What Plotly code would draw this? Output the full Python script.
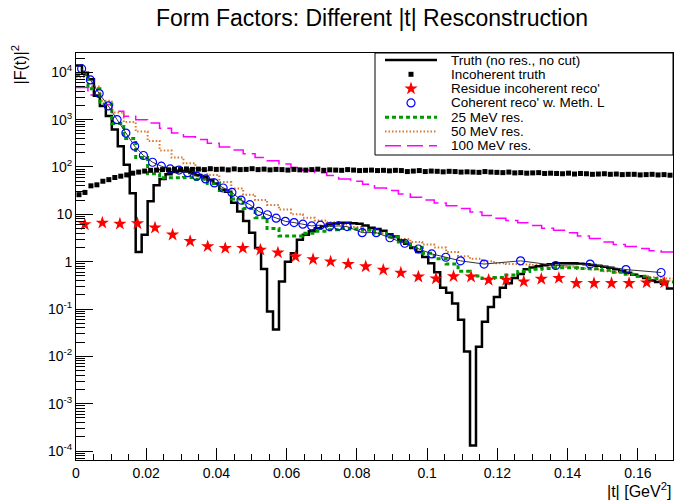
import numpy as np
import plotly.graph_objects as go

# ---------------- data ----------------
T_MAX = 0.17
TRUTH_BIN = 0.0017      # truth / incoherent-truth bin width
SMEAR_BIN = 0.0034      # smeared-resolution histograms bin width
RESIDUE_BIN = 0.005     # residue incoherent reco bin width

truth = [14000, 9800, 7100, 3200, 1950, 1200, 620, 275, 112, 28,
         1.6, 3.7, 19, 41, 56, 70, 78, 82, 80, 75,
         68, 62, 54, 45, 33, 30, 17.5, 11.5, 7.2, 4.1,
         1.95, 0.7, 0.088, 0.037, 0.38, 1.0, 1.5, 2.9, 3.7, 4.4,
         5.1, 5.6, 6.1, 6.4, 6.6, 6.6, 6.5, 6.3, 5.8, 5.2,
         4.9, 4.5, 3.8, 3.4, 2.8, 2.4, 1.95, 1.6, 1.25, 0.93,
         0.6, 0.28, 0.22, 0.13, 0.059, 0.0126, 0.00013, 0.016, 0.054, 0.11,
         0.18, 0.28, 0.35, 0.45, 0.55, 0.69, 0.75, 0.8, 0.84, 0.88,
         0.92, 0.93, 0.93, 0.92, 0.9, 0.88, 0.85, 0.82, 0.78, 0.74,
         0.69, 0.63, 0.58, 0.53, 0.49, 0.45, 0.4, 0.37, 0.34, 0.27]

incoherent_truth = [26, 29, 40, 42, 50, 54, 60, 64, 68, 74,
                    78, 82, 85, 86, 88, 87, 90, 88, 91, 89,
                    90, 88, 92, 89, 90, 87, 91, 88, 89, 92,
                    88, 90, 87, 89, 88, 86, 89, 87, 86, 88,
                    90, 85, 87, 86, 85, 88, 86, 84, 85, 86,
                    84, 85, 83, 85, 84, 80, 82, 84, 80, 82,
                    81, 79, 81, 80, 78, 79, 78, 77, 80, 78,
                    77, 76, 78, 75, 76, 74, 75, 76, 73, 74,
                    73, 72, 74, 71, 73, 72, 70, 71, 72, 70,
                    71, 69, 70, 70, 68, 69, 70, 68, 69, 67]

residue_reco = [6.1, 6.6, 6.3, 6.4, 5.2, 3.7, 2.7, 2.1, 1.93, 1.93,
                1.78, 1.55, 1.28, 1.12, 1.0, 0.89, 0.79, 0.67, 0.58, 0.48,
                0.44, 0.49, 0.48, 0.41, 0.41, 0.38, 0.43, 0.45, 0.35, 0.35,
                0.35, 0.35, 0.36, 0.36]

coherent_t = [0.0016, 0.0041, 0.0066, 0.0092, 0.0117, 0.0142, 0.0167, 0.0192,
              0.0218, 0.0243, 0.0268, 0.0293, 0.0318, 0.0344, 0.0369, 0.0394,
              0.0419, 0.0444, 0.0470, 0.0495, 0.0520, 0.0545, 0.0570, 0.0596,
              0.0621, 0.0646, 0.0671, 0.0696, 0.0722, 0.0747, 0.0772, 0.0815,
              0.0855, 0.0894, 0.0936, 0.0975, 0.1013, 0.1053, 0.1095, 0.1162,
              0.1266, 0.1366, 0.1464, 0.1566, 0.1666]
coherent_reco = [11900, 6900, 3550, 1950, 1000, 520, 275, 175,
                 126, 104, 91, 86, 76, 64, 56, 46,
                 36, 29, 20, 16, 11.5, 9.8, 8.3, 7.1,
                 6.7, 6.2, 5.7, 5.9, 5.5, 5.7, 5.5, 4.1,
                 4.1, 3.2, 2.45, 1.85, 1.46, 1.24, 1.04, 0.89,
                 1.04, 0.83, 0.89, 0.68, 0.59]

res25 = [8900, 4470, 2140, 830, 400, 158, 72, 59, 59, 60,
         55, 45, 32, 21, 13.2, 8.5, 5.0, 3.5, 3.5, 4.0,
         4.4, 4.7, 5.0, 4.9, 4.6, 4.0, 3.3, 2.6, 2.0, 1.5,
         1.15, 0.89, 0.63, 0.5, 0.44, 0.46, 0.52, 0.62, 0.69, 0.72,
         0.74, 0.74, 0.72, 0.71, 0.66, 0.60, 0.54, 0.49, 0.44, 0.37]

res50 = [7900, 5000, 2500, 1410, 890, 560, 355, 224, 158, 120,
         89, 68, 48, 35, 26, 20, 15.8, 12.6, 10, 8.5,
         7.4, 6.8, 6.2, 5.4, 4.7, 4.0, 3.5, 3.0, 2.6, 2.3,
         2.0, 1.6, 1.3, 1.15, 1.02, 0.93, 0.89, 0.87, 0.85, 0.83,
         0.81, 0.78, 0.72, 0.68, 0.63, 0.59, 0.54, 0.50, 0.47, 0.44]

res100 = [4790, 3310, 2090, 1510, 1175, 1000, 851, 661, 525, 437,
          380, 316, 263, 229, 191, 158, 135, 115, 98, 85,
          76, 66, 56, 50, 43, 36, 32, 27, 23, 20,
          17.4, 15.1, 13.2, 11.2, 9.5, 8.3, 7.4, 6.6, 5.8, 5.1,
          4.6, 4.1, 3.5, 3.1, 2.6, 2.3, 2.1, 1.9, 1.7, 1.6]

legend_labels = ["Truth (no res., no cut)", "Incoherent truth",
                 "Residue incoherent reco'", "Coherent reco' w. Meth. L",
                 "25 MeV res.", "50 MeV res.", "100 MeV res."]

x_tick_vals = [0, 0.02, 0.04, 0.06, 0.08, 0.1, 0.12, 0.14, 0.16]
x_tick_text = ["0", "0.02", "0.04", "0.06", "0.08", "0.1", "0.12", "0.14", "0.16"]
y_tick_vals = [1e-4, 1e-3, 1e-2, 1e-1, 1, 10, 1e2, 1e3, 1e4]
y_tick_text = ["10<sup>-4</sup>", "10<sup>-3</sup>", "10<sup>-2</sup>", "10<sup>-1</sup>",
               "1", "10", "10<sup>2</sup>", "10<sup>3</sup>", "10<sup>4</sup>"]

# ---------------- styles ----------------
FONT = "Liberation Sans"
C_GREEN = "#009a00"
C_ORANGE = "#d9772a"
C_MAGENTA = "#ff00ff"
DASH_GREEN = "4px,3px"
DASH_ORANGE = "1.5px,2px"
DASH_MAGENTA = "16px,6px"
STAR = dict(symbol="star", size=10, color="red", line=dict(width=0))
CIRCLE = dict(symbol="circle-open", size=8, color="blue", line=dict(width=1.2, color="blue"))
SQUARE = dict(symbol="square", size=5, color="black")


def step_xy(values, width):
    edges = np.arange(len(values) + 1) * width
    return edges, list(values) + [values[-1]]


def centers(n, width):
    return (np.arange(n) + 0.5) * width


fig = go.Figure()

x, y = step_xy(res100, SMEAR_BIN)
fig.add_trace(go.Scatter(x=x, y=y, mode="lines", line_shape="hv",
                         line=dict(color=C_MAGENTA, width=1.5, dash=DASH_MAGENTA)))
x, y = step_xy(res50, SMEAR_BIN)
fig.add_trace(go.Scatter(x=x, y=y, mode="lines", line_shape="hv",
                         line=dict(color=C_ORANGE, width=2, dash=DASH_ORANGE)))
x, y = step_xy(truth, TRUTH_BIN)
fig.add_trace(go.Scatter(x=x, y=y, mode="lines", line_shape="hv",
                         line=dict(color="black", width=2.5)))
x, y = step_xy(res25, SMEAR_BIN)
fig.add_trace(go.Scatter(x=x, y=y, mode="lines", line_shape="hv",
                         line=dict(color=C_GREEN, width=3, dash=DASH_GREEN)))
fig.add_trace(go.Scatter(x=coherent_t, y=coherent_reco, mode="lines+markers",
                         line=dict(color="#333333", width=1), marker=CIRCLE))
fig.add_trace(go.Scatter(x=centers(len(incoherent_truth), TRUTH_BIN), y=incoherent_truth,
                         mode="markers", marker=SQUARE))
fig.add_trace(go.Scatter(x=centers(len(residue_reco), RESIDUE_BIN), y=residue_reco,
                         mode="markers", marker=STAR))

# ---------------- legend (drawn in the box, ROOT style) ----------------
L_LEFT, L_RIGHT, L_TOP, L_BOTTOM = 375, 673, 53, 155   # box, in page pixels
ROW0, ROW_STEP = 60, 14.3
GLYPH_X0, GLYPH_X1, TEXT_X = 385, 437, 449
rows = [ROW0 + ROW_STEP * k for k in range(len(legend_labels))]
gmid = (GLYPH_X0 + GLYPH_X1) / 2

glyphs = [
    dict(mode="lines", line=dict(color="black", width=2.5)),
    dict(mode="markers", marker=SQUARE),
    dict(mode="markers", marker=STAR),
    dict(mode="markers", marker=CIRCLE),
    dict(mode="lines", line=dict(color=C_GREEN, width=3, dash=DASH_GREEN)),
    dict(mode="lines", line=dict(color=C_ORANGE, width=2, dash=DASH_ORANGE)),
    dict(mode="lines", line=dict(color=C_MAGENTA, width=1.5, dash=DASH_MAGENTA)),
]
for row, g in zip(rows, glyphs):
    if g["mode"] == "lines":
        gx, gy = [GLYPH_X0, GLYPH_X1], [row, row]
    else:
        gx, gy = [gmid], [row]
    fig.add_trace(go.Scatter(x=gx, y=gy, xaxis="x2", yaxis="y2", hoverinfo="skip", **g))

annotations = []
for row, label in zip(rows, legend_labels):
    annotations.append(dict(x=TEXT_X, y=row, xref="x2", yref="y2", text=label,
                            showarrow=False, xanchor="left", yanchor="middle",
                            font=dict(family=FONT, size=13.5, color="black")))

# plot area in page pixels
P_L, P_R, P_T, P_B = 76, 673, 53, 460
PW, PH = P_R - P_L, P_B - P_T

annotations.append(dict(text="|F(t)|<sup>2</sup>", textangle=-90, showarrow=False,
                        xref="paper", yref="paper", x=(19 - P_L) / PW, y=(P_B - 44) / PH,
                        xanchor="center", yanchor="top",
                        font=dict(family=FONT, size=16, color="black")))
annotations.append(dict(text="|t| [GeV<sup>2</sup>]", showarrow=False,
                        xref="paper", yref="paper", x=1.0, y=(P_B - 490) / PH,
                        xanchor="right", yanchor="middle",
                        font=dict(family=FONT, size=16, color="black")))

y_minor = [m * 10.0 ** d for d in range(-5, 5) for m in range(2, 10)]

fig.update_layout(
    width=688, height=500,
    margin=dict(l=P_L, r=688 - P_R, t=P_T, b=500 - P_B),
    paper_bgcolor="white", plot_bgcolor="rgba(0,0,0,0)",
    showlegend=False,
    font=dict(family=FONT, size=14, color="black"),
    title=dict(text="Form Factors: Different |t| Resconstruction",
               x=372 / 688, xanchor="center", y=1 - 18 / 500, yanchor="middle",
               font=dict(family=FONT, size=23, color="black")),
    xaxis=dict(range=[0, T_MAX], tickvals=x_tick_vals, ticktext=x_tick_text,
               ticks="inside", ticklen=12, tickwidth=1, tickcolor="black",
               minor=dict(dtick=0.005, tick0=0, ticks="inside", ticklen=6,
                          tickcolor="black", showgrid=False),
               showgrid=False, zeroline=False, showline=True, linecolor="black",
               linewidth=1, mirror=True, tickfont=dict(size=14)),
    yaxis=dict(type="log", range=[-4.19, 4.408], tickvals=y_tick_vals,
               ticktext=y_tick_text, ticks="inside", ticklen=17, tickwidth=1,
               tickcolor="black",
               minor=dict(tickvals=y_minor, ticks="inside", ticklen=9,
                          tickcolor="black", showgrid=False),
               showgrid=False, zeroline=False, showline=True, linecolor="black",
               linewidth=1, mirror=True, tickfont=dict(size=14)),
    xaxis2=dict(domain=[(L_LEFT - P_L) / PW, (L_RIGHT - P_L) / PW], anchor="y2",
                range=[L_LEFT, L_RIGHT], visible=False, fixedrange=True),
    yaxis2=dict(domain=[(P_B - L_BOTTOM) / PH, (P_B - L_TOP) / PH], anchor="x2",
                range=[L_BOTTOM, L_TOP], visible=False, fixedrange=True),
    shapes=[dict(type="rect", xref="paper", yref="paper", layer="below",
                 x0=(L_LEFT - P_L) / PW, x1=(L_RIGHT - P_L) / PW,
                 y0=(P_B - L_BOTTOM) / PH, y1=(P_B - L_TOP) / PH,
                 line=dict(color="black", width=1), fillcolor="white")],
    annotations=annotations,
)

fig.write_html("out.html")
